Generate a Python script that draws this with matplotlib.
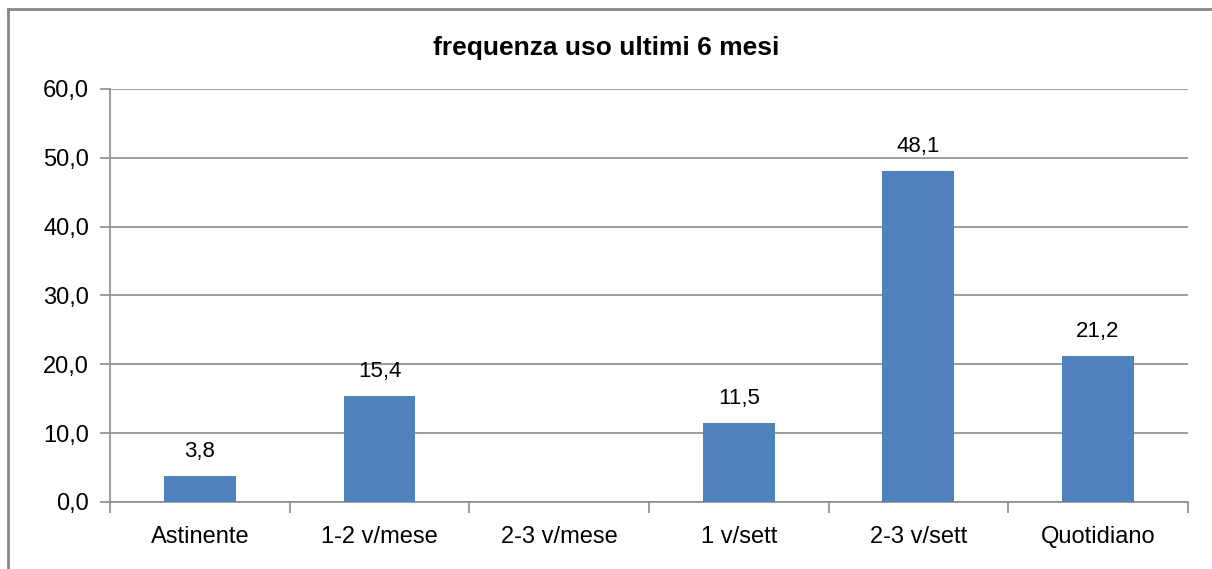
import matplotlib.pyplot as plt
from matplotlib.lines import Line2D

categories = ["Astinente", "1-2 v/mese", "2-3 v/mese", "1 v/sett", "2-3 v/sett", "Quotidiano"]
values = [3.8, 15.4, 0.0, 11.5, 48.1, 21.2]
yticks = [0, 10, 20, 30, 40, 50, 60]

plt.rcParams['font.family'] = ['Liberation Sans', 'DejaVu Sans']

fig = plt.figure(figsize=(12.12, 5.69), dpi=100)
ax = fig.add_axes([0.0908, 0.1178, 0.8892, 0.7258])

x = range(len(categories))
ax.bar(x, values, width=0.4, color="#4F81BD", zorder=3)

# data labels (skip the empty category)
for xi, v in zip(x, values):
    if v > 0:
        ax.text(xi, v + 2.0, f"{v:.1f}".replace(".", ","), ha="center", va="bottom",
                fontsize=16, color="black")

ax.set_xlim(-0.5, len(categories) - 0.5)
ax.set_ylim(0, 60)
ax.set_yticks(yticks)
ax.set_yticklabels([f"{t:.1f}".replace(".", ",") for t in yticks], fontsize=17)
ax.yaxis.grid(True, color="#8c8c8c", linewidth=1.2, zorder=0)

ax.set_xticks(x)
ax.set_xticklabels(categories, fontsize=17)
ax.tick_params(axis="x", length=0, pad=17)
ax.set_xticks([i - 0.5 for i in range(len(categories) + 1)], minor=True)
ax.tick_params(axis="x", which="minor", length=8, color="#8c8c8c", width=1.2)
ax.tick_params(axis="y", length=7, color="#8c8c8c", width=1.2, pad=8)

for side in ["top", "right"]:
    ax.spines[side].set_visible(False)
for side in ["left", "bottom"]:
    ax.spines[side].set_color("#8c8c8c")
    ax.spines[side].set_linewidth(1.2)

fig.text(0.5, 0.915, "frequenza uso ultimi 6 mesi", ha="center", va="center",
         fontsize=19, fontweight="bold")

# outer chart frame (cropped: only top and left edges visible)
fig.add_artist(Line2D([0.0066, 1.0], [0.984, 0.984], color="#888888", linewidth=2,
                      transform=fig.transFigure))
fig.add_artist(Line2D([0.0066, 0.0066], [0.0, 0.984], color="#888888", linewidth=2,
                      transform=fig.transFigure))

fig.savefig("out.png", dpi=100)
